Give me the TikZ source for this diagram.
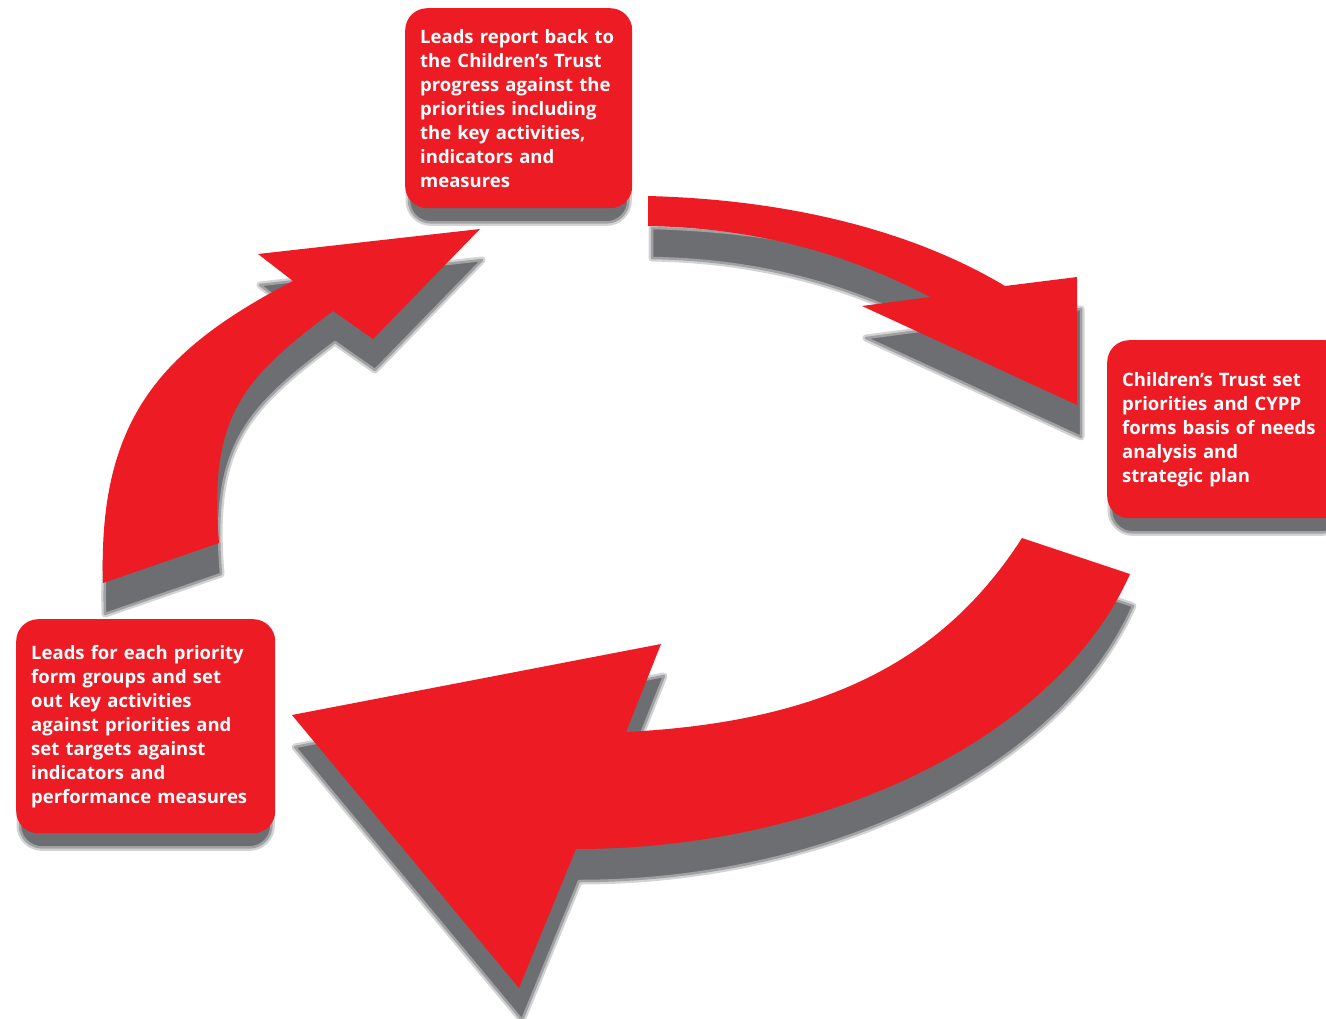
\documentclass[tikz,border=0pt]{standalone}
\usepackage{fontspec}
\setmainfont{Open Sans}
\usetikzlibrary{calc,backgrounds}
\definecolor{trustred}{HTML}{ED1C24}
\definecolor{shadowgrey}{HTML}{6D6E71}

% the three block arrows of the cycle
\newcommand{\arrowreport}[1]{\path[#1] (648,196) .. controls (800,200) and (920,235) .. (1005,286)
  -- (1077,277) -- (1077,405) -- (862,306) -- (930,297)
  .. controls (850,255) and (760,228) .. (648,226) -- cycle;}
\newcommand{\arrowplan}[1]{\path[#1] (1022,538) -- (1130,574)
  .. controls (1057,738) and (826,849) .. (576,849)
  -- (519,988) -- (292,715) -- (661,644) -- (626,732)
  .. controls (820,722) and (941,664) .. (1022,538) -- cycle;}
\newcommand{\arrowleads}[1]{\path[#1] (103,583) .. controls (98,420) and (160,350) .. (293,281)
  -- (258,254) -- (480,229) -- (373,339) -- (333,311)
  .. controls (245,377) and (208,414) .. (219,543) -- cycle;}

\begin{document}
\begin{tikzpicture}[
    x=1pt, y=-1pt,
    box/.style={rectangle, rounded corners=22pt, fill=trustred, text=white, anchor=north west,
      align=left, inner xsep=15pt, inner ysep=0pt, font=\fontsize{18.5}{24}\selectfont\bfseries},
    haze/.style={draw=shadowgrey!30, line width=7pt, line join=round, rounded corners=#1},
    haze/.default=0pt,
    shade/.style={fill=shadowgrey, draw=shadowgrey!65, line width=2.5pt, line join=round, rounded corners=#1},
    shade/.default=0pt,
    redfill/.style={fill=trustred}
  ]
  \useasboundingbox (0,0) rectangle (1326,1018);

  \node[box, text width=197pt, minimum height=200pt] (report) at (405,8)
    {Leads report back to\\the Children’s Trust\\progress against the\\priorities including\\the key activities,\\indicators and\\measures};
  \node[box, text width=210pt, minimum height=178pt] (priorities) at (1107,340)
    {Children’s Trust set\\priorities and CYPP\\forms basis of needs\\analysis and\\strategic plan};
  \node[box, text width=229pt, minimum height=214pt] (groups) at (16,619)
    {Leads for each priority\\form groups and set\\out key activities\\against priorities and\\set targets against\\indicators and\\performance measures};

  % soft shadows
  \begin{scope}[on background layer]
    \foreach \b in {report,priorities,groups} {
      \path[haze=22pt] ($(\b.north west)+(4,14)$) rectangle ($(\b.south east)+(-4,14)$);
      \path[shade=22pt] ($(\b.north west)+(4,14)$) rectangle ($(\b.south east)+(-4,14)$);
    }
    \begin{scope}[shift={(4,32)}]
      \arrowreport{haze}
      \arrowreport{shade}
    \end{scope}
    \begin{scope}[shift={(3,32)}]
      \arrowplan{haze}
      \arrowplan{shade}
    \end{scope}
    \begin{scope}[shift={(2,31)}]
      \arrowleads{haze}
      \arrowleads{shade}
    \end{scope}
  \end{scope}

  \arrowreport{redfill}
  \arrowplan{redfill}
  \arrowleads{redfill}
\end{tikzpicture}
\end{document}
